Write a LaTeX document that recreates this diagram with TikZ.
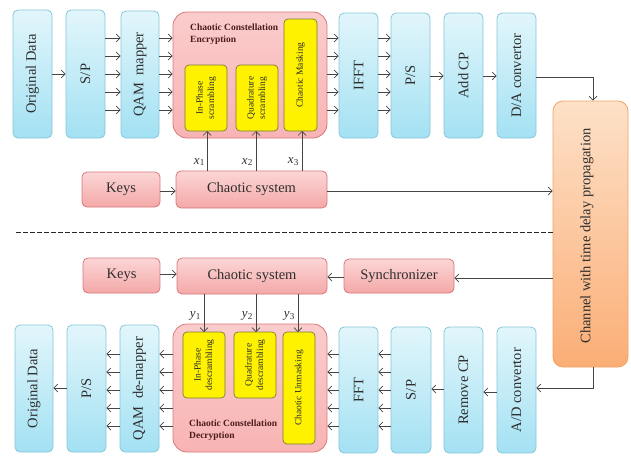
\documentclass[tikz,border=0pt]{standalone}
\usepackage{fontspec}
\setmainfont{Liberation Serif}
\usetikzlibrary{arrows.meta,calc}
\definecolor{blueT}{HTML}{E2F6FB}
\definecolor{blueB}{HTML}{A3E1F3}
\definecolor{blueE}{HTML}{86C6DA}
\definecolor{redT}{HTML}{FCD6D6}
\definecolor{redB}{HTML}{F4A8A8}
\definecolor{redE}{HTML}{D9787A}
\definecolor{bigred}{HTML}{F8BDBD}
\definecolor{orT}{HTML}{FDE1C8}
\definecolor{orB}{HTML}{FBAE76}
\definecolor{orE}{HTML}{F2A262}
\definecolor{yelE}{HTML}{7C7A3A}
\definecolor{lineC}{HTML}{454545}
\definecolor{txtC}{HTML}{2E2E2E}
\definecolor{titC}{HTML}{4A1C1C}
\begin{document}
\begin{tikzpicture}[x=1pt,y=-1pt,
  bluebox/.style={draw=blueE, line width=0.8pt, rounded corners=5pt, top color=blueT, bottom color=blueB, inner sep=0pt},
  redbox/.style={draw=redE, line width=0.8pt, rounded corners=5pt, top color=redT, bottom color=redB, inner sep=0pt, font=\fontsize{14.5}{16}\selectfont, text=txtC},
  bigbox/.style={draw=redE, line width=0.8pt, rounded corners=14pt, top color=redT!60!bigred, bottom color=bigred!95!red, inner sep=0pt},
  yelbox/.style={draw=yelE, line width=0.7pt, rounded corners=4pt, fill=yellow, inner sep=0pt},
  vtext/.style={rotate=90, font=\fontsize{14.5}{16}\selectfont, text=txtC, inner sep=0pt},
  ytext/.style={rotate=90, font=\fontsize{9.5}{11.5}\selectfont, text=txtC, align=center, inner sep=0pt},
  ttext/.style={font=\fontsize{9.5}{11.5}\selectfont\bfseries, text=titC, align=left, inner sep=0pt},
  lab/.style={font=\fontsize{13}{14}\selectfont, text=txtC, inner sep=0pt},
  arr/.style={draw=lineC, line width=0.7pt, -{Straight Barb[length=4pt,width=8pt]}},
  ln/.style={draw=lineC, line width=0.7pt}
]
\useasboundingbox (0,0) rectangle (631,455);

% ---------- transmitter ----------
\node[bluebox, minimum width=39pt, minimum height=128pt] (od1) at (32.5,74) {};
\node[vtext] (od1t) at (od1) {Original Data};
\node[bluebox, minimum width=39pt, minimum height=128pt] (sp1) at (85.5,74) {};
\node[vtext] (sp1t) at (sp1) {S/P};
\node[bluebox, minimum width=38pt, minimum height=127pt] (qam) at (140,74.5) {};
\node[vtext] (qamt) at (qam) {QAM\ \ mapper};

\node[bigbox, minimum width=154pt, minimum height=126pt] (enc) at (250,75) {};
\node[ttext, anchor=north west] (enct) at (190,24) {Chaotic Constellation\\Encryption};
\node[yelbox, minimum width=42pt, minimum height=66pt] (ip) at (206,98) {};
\node[ytext] (ipt) at (ip) {In-Phase\\scrambling};
\node[yelbox, minimum width=42pt, minimum height=66pt] (qd) at (257,98) {};
\node[ytext] (qdt) at (qd) {Quadrature\\scrambling};
\node[yelbox, minimum width=33pt, minimum height=112pt] (mk) at (300.5,75) {};
\node[ytext] (mkt) at (mk) {Chaotic Masking};

\node[bluebox, minimum width=39pt, minimum height=125pt] (ifft) at (358.5,75.5) {};
\node[vtext] (ifftt) at (ifft) {IFFT};
\node[bluebox, minimum width=39pt, minimum height=125pt] (ps1) at (410.5,75.5) {};
\node[vtext] (ps1t) at (ps1) {P/S};
\node[bluebox, minimum width=39pt, minimum height=125pt] (acp) at (463.5,75.5) {};
\node[vtext] (acpt) at (acp) {Add CP};
\node[bluebox, minimum width=39pt, minimum height=125pt] (da) at (516.5,75.5) {};
\node[vtext] (dat) at (da) {D/A convertor};

\node[draw=orE, line width=0.8pt, rounded corners=10pt, top color=orT, bottom color=orB, minimum width=75pt, minimum height=266pt, inner sep=0pt] (ch) at (590.5,234) {};
\node[vtext] (cht) at (587,236) {Channel with time delay propagation};

\node[redbox, minimum width=78pt, minimum height=35pt] (k1) at (121,189.5) {Keys};
\node[redbox, minimum width=151pt, minimum height=37pt] (cs1) at (251.5,189.5) {Chaotic system};

% arrows transmitter
\draw[arr] (od1.east |- 0,74) -- (sp1.west |- 0,74);
\foreach \yy in {38,56,74,92,110} {
  \draw[arr] (sp1.east |- 0,\yy) -- (qam.west |- 0,\yy);
  \draw[arr] (qam.east |- 0,\yy) -- (enc.west |- 0,\yy);
  \draw[arr] (enc.east |- 0,\yy) -- (ifft.west |- 0,\yy);
  \draw[arr] (ifft.east |- 0,\yy) -- (ps1.west |- 0,\yy);
}
\draw[arr] (ps1.east |- 0,76) -- (acp.west |- 0,76);
\draw[arr] (acp.east |- 0,76) -- (da.west |- 0,76);
\coordinate (c1) at (593,77);
\draw[arr] (da.east |- c1) -- (c1) -- (c1 |- ch.north);
\draw[arr] (k1.east |- 0,191) -- (cs1.west |- 0,191);
\draw[arr] (cs1.east |- 0,191) -- (ch.west |- 0,191);
\draw[arr] (cs1.north -| 207,0) -- (207,131);
\draw[arr] (cs1.north -| 256,0) -- (256,131);
\draw[arr] (cs1.north -| 302,0) -- (302,131);
\node[lab, anchor=east] (x1) at (205,162) {\textit{x}\textsubscript{1}};
\node[lab, anchor=east] (x2) at (253,162) {\textit{x}\textsubscript{2}};
\node[lab, anchor=east] (x3) at (299,162) {\textit{x}\textsubscript{3}};

% dashed separator
\coordinate (dl) at (16,232);
\draw[draw=black!85, line width=1pt, dash pattern=on 4.5pt off 2.5pt] (dl) -- (ch.west |- dl);

% ---------- receiver ----------
\node[redbox, minimum width=77pt, minimum height=35pt] (k2) at (121.5,275.5) {Keys};
\node[redbox, minimum width=150pt, minimum height=36pt] (cs2) at (252,276) {Chaotic system};
\node[redbox, minimum width=110pt, minimum height=34pt] (sy) at (399,276) {Synchronizer};
\draw[arr] (k2.east |- 0,274) -- (cs2.west |- 0,274);
\draw[arr] (ch.west |- 0,278) -- (sy.east |- 0,278);
\draw[arr] (sy.west |- 0,277) -- (cs2.east |- 0,277);

\node[bigbox, minimum width=154pt, minimum height=128pt] (dec) at (250,388) {};
\node[ttext, anchor=north west] (dect) at (189,420) {Chaotic Constellation\\Decryption};
\node[yelbox, minimum width=42pt, minimum height=66pt] (ipd) at (204,365) {};
\node[ytext] (ipdt) at (ipd) {In-Phase\\descrambling};
\node[yelbox, minimum width=42pt, minimum height=66pt] (qdd) at (255,365) {};
\node[ytext] (qddt) at (qdd) {Quadrature\\descrambling};
\node[yelbox, minimum width=32pt, minimum height=112pt] (um) at (299,388) {};
\node[ytext] (umt) at (um) {Chaotic Unmasking};

\draw[arr] (cs2.south -| 204,0) -- (204,332);
\draw[arr] (cs2.south -| 256,0) -- (256,332);
\draw[arr] (cs2.south -| 298,0) -- (298,332);
\node[lab, anchor=east] (y1) at (201,316) {\textit{y}\textsubscript{1}};
\node[lab, anchor=east] (y2) at (253,316) {\textit{y}\textsubscript{2}};
\node[lab, anchor=east] (y3) at (295,316) {\textit{y}\textsubscript{3}};

\node[bluebox, minimum width=38pt, minimum height=127pt] (od2) at (34,388.5) {};
\node[vtext] (od2t) at (od2) {Original Data};
\node[bluebox, minimum width=39pt, minimum height=127pt] (ps2) at (86.5,388.5) {};
\node[vtext] (ps2t) at (ps2) {P/S};
\node[bluebox, minimum width=39pt, minimum height=127pt] (qamd) at (139.5,388.5) {};
\node[vtext] (qamdt) at (qamd) {QAM\ \ de-mapper};

\node[bluebox, minimum width=39pt, minimum height=126pt] (fft) at (358.5,390) {};
\node[vtext] (fftt) at (fft) {FFT};
\node[bluebox, minimum width=40pt, minimum height=126pt] (sp2) at (411,390) {};
\node[vtext] (sp2t) at (sp2) {S/P};
\node[bluebox, minimum width=39pt, minimum height=126pt] (rcp) at (463.5,390) {};
\node[vtext] (rcpt) at (rcp) {Remove CP};
\node[bluebox, minimum width=39pt, minimum height=126pt] (ad) at (516.5,390) {};
\node[vtext] (adt) at (ad) {A/D convertor};

\foreach \yy in {354,372,390,408,426} {
  \draw[arr] (sp2.west |- 0,\yy) -- (fft.east |- 0,\yy);
  \draw[arr] (fft.west |- 0,\yy) -- (dec.east |- 0,\yy);
  \draw[arr] (dec.west |- 0,\yy) -- (qamd.east |- 0,\yy);
  \draw[arr] (qamd.west |- 0,\yy) -- (ps2.east |- 0,\yy);
}
\draw[arr] (ps2.west |- 0,388) -- (od2.east |- 0,388);
\draw[arr] (rcp.west |- 0,389) -- (sp2.east |- 0,389);
\draw[arr] (ad.west |- 0,392) -- (rcp.east |- 0,392);
\coordinate (c2) at (593,388);
\draw[arr] (ch.south -| c2) -- (c2) -- (ad.east |- c2);
\end{tikzpicture}
\end{document}
